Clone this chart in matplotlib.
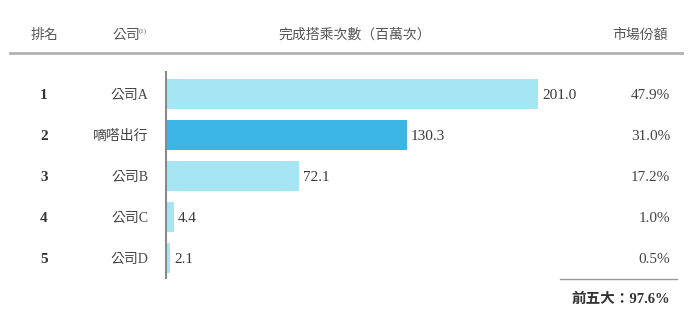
import matplotlib
matplotlib.use("Agg")
import matplotlib.pyplot as plt
from matplotlib.lines import Line2D
import matplotlib.transforms as mtransforms

ranks = ["1", "2", "3", "4", "5"]
companies = ["公司A", "嘀嗒出行", "公司B", "公司C", "公司D"]
rides = [201.0, 130.3, 72.1, 4.4, 2.1]
shares = ["47.9%", "31.0%", "17.2%", "1.0%", "0.5%"]
highlight = "嘀嗒出行"
headers = ["排名", "公司", "完成搭乘次數（百萬次）", "市場份額"]
total_text = "前五大：97.6%"

W, H = 700, 317
fig = plt.figure(figsize=(W / 100, H / 100), dpi=100)

def fx(px):
    return px / W

def fy(py):
    return 1 - py / H

SERIF_CJK = ["Liberation Serif", "Noto Sans CJK TC"]
SANS_CJK = ["Noto Sans CJK TC", "DejaVu Sans"]

# bar axes
ax_left, ax_right, ax_top, ax_bot = 166, 690, 72, 278
ax = fig.add_axes([fx(ax_left), fy(ax_bot), fx(ax_right - ax_left), (ax_bot - ax_top) / H])
px_per_unit = (538 - 166) / 201.0
ax.set_xlim(0, (ax_right - ax_left) / px_per_unit)
row_px = 41.0
ax.set_ylim(4 + (278 - 258) / row_px, -(94 - 72) / row_px)

ypos = list(range(len(companies)))
colors = ["#3bb5e6" if c == highlight else "#a6e5f4" for c in companies]
ax.barh(ypos, rides, height=0.74, color=colors, edgecolor="none")
for spine in ["top", "right", "bottom"]:
    ax.spines[spine].set_visible(False)
ax.spines["left"].set_color("#8a8a8a")
ax.spines["left"].set_linewidth(1.5)
ax.set_xticks([])
ax.set_yticks([])
ax.patch.set_alpha(0)

for y, v in zip(ypos, rides):
    ax.text(v + 4 / px_per_unit, y, f"{v:.1f}", va="center_baseline", ha="left",
            fontsize=11, family=SERIF_CJK, color="#3a3a3a")

tr = mtransforms.blended_transform_factory(fig.transFigure, ax.transData)
for y, r, c, s in zip(ypos, ranks, companies, shares):
    ax.text(fx(44), y, r, transform=tr, ha="center", va="center_baseline",
            fontsize=11, fontweight="bold", family=SERIF_CJK, color="#333333")
    ax.text(fx(148), y, c, transform=tr, ha="right", va="center_baseline",
            fontsize=10, family=SERIF_CJK, color="#444444")
    ax.text(fx(670), y, s, transform=tr, ha="right", va="center_baseline",
            fontsize=11, family=SERIF_CJK, color="#444444")

# headers
hy = fy(35)
hc = "#555555"
fig.text(fx(44), hy, headers[0], ha="center", va="center", fontsize=10, family=SANS_CJK, color=hc)
fig.text(fx(112), hy, headers[1], ha="left", va="center", fontsize=10, family=SANS_CJK, color=hc)
fig.text(fx(139), fy(31), "(1)", ha="left", va="center", fontsize=5, family=SERIF_CJK, color=hc)
fig.text(fx(355), hy, headers[2], ha="center", va="center", fontsize=10, family=SANS_CJK, color=hc)
fig.text(fx(668), hy, headers[3], ha="right", va="center", fontsize=10, family=SANS_CJK, color=hc)

fig.add_artist(Line2D([fx(10), fx(682)], [fy(53), fy(53)], color="#b0b0b0", lw=2, transform=fig.transFigure))
fig.add_artist(Line2D([fx(560), fx(677)], [fy(279), fy(279)], color="#999999", lw=1, transform=fig.transFigure))

fig.text(fx(670), fy(298), total_text, ha="right", va="center_baseline", fontsize=10.5,
         fontweight="bold", family=SERIF_CJK, color="#333333")

fig.savefig("out.png", dpi=100)
